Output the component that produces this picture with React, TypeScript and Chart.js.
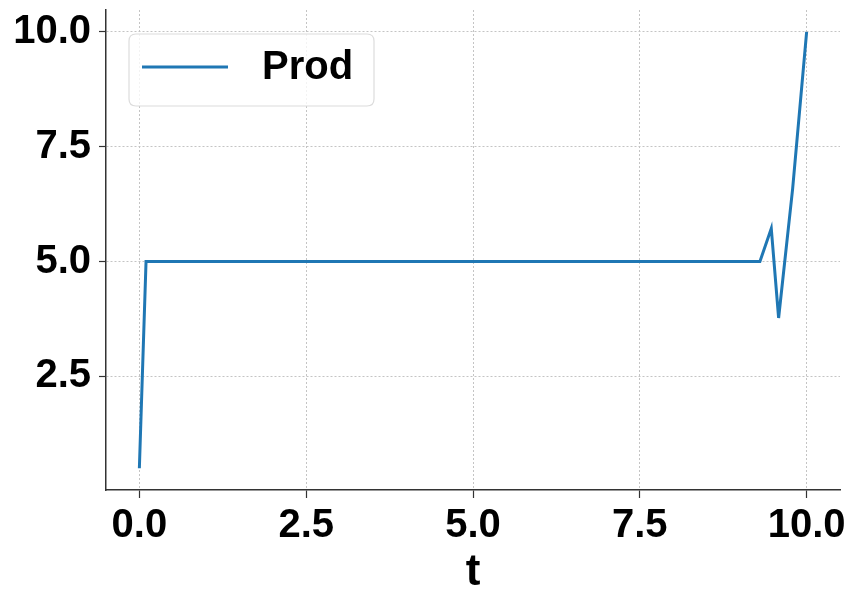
import React, { useEffect, useRef } from "react";
import { Chart, registerables } from "chart.js";

Chart.register(...registerables);

const tValues = [0, 0.1, 9.3, 9.47, 9.58, 9.79, 10];
const prodValues = [0.5, 5, 5, 5.72, 3.77, 6.58, 10];
const xTicks = [0, 2.5, 5, 7.5, 10];
const yTicks = [2.5, 5, 7.5, 10];
const seriesLabel = "Prod";
const xTitle = "t";

const FONT = "'Liberation Sans', Arial, Helvetica, sans-serif";
const LINE_COLOR = "#1f77b4";

const legendPlugin = {
  id: "mplLegend",
  afterDraw(chart: any) {
    const ctx = chart.ctx;
    const x0 = 129, y0 = 34, w = 245, h = 72, r = 7;
    ctx.save();
    ctx.beginPath();
    ctx.moveTo(x0 + r, y0);
    ctx.lineTo(x0 + w - r, y0);
    ctx.quadraticCurveTo(x0 + w, y0, x0 + w, y0 + r);
    ctx.lineTo(x0 + w, y0 + h - r);
    ctx.quadraticCurveTo(x0 + w, y0 + h, x0 + w - r, y0 + h);
    ctx.lineTo(x0 + r, y0 + h);
    ctx.quadraticCurveTo(x0, y0 + h, x0, y0 + h - r);
    ctx.lineTo(x0, y0 + r);
    ctx.quadraticCurveTo(x0, y0, x0 + r, y0);
    ctx.closePath();
    ctx.fillStyle = "rgba(255,255,255,0.8)";
    ctx.fill();
    ctx.strokeStyle = "#dcdcdc";
    ctx.lineWidth = 1.2;
    ctx.stroke();
    ctx.beginPath();
    ctx.moveTo(142, 67);
    ctx.lineTo(228, 67);
    ctx.strokeStyle = LINE_COLOR;
    ctx.lineWidth = 3;
    ctx.stroke();
    ctx.fillStyle = "#000";
    ctx.font = `bold 40px ${FONT}`;
    ctx.textBaseline = "middle";
    ctx.textAlign = "left";
    ctx.fillText(chart.data.datasets[0].label, 262, 68);
    ctx.restore();
  },
};

export default function App() {
  const ref = useRef<HTMLCanvasElement>(null);
  useEffect(() => {
    if (!ref.current) return;
    const chart = new Chart(ref.current, {
      type: "scatter",
      data: {
        datasets: [
          {
            label: seriesLabel,
            data: tValues.map((t, i) => ({ x: t, y: prodValues[i] })),
            showLine: true,
            borderColor: LINE_COLOR,
            backgroundColor: LINE_COLOR,
            borderWidth: 3,
            pointRadius: 0,
            tension: 0,
          },
        ],
      },
      options: {
        responsive: false,
        animation: false,
        layout: { padding: { top: 10, right: 9, left: 0, bottom: 0 } },
        plugins: { legend: { display: false }, tooltip: { enabled: false } },
        scales: {
          x: {
            type: "linear",
            min: -0.5,
            max: 10.5,
            afterBuildTicks: (s: any) => {
              s.ticks = xTicks.map((v) => ({ value: v }));
            },
            afterFit: (s: any) => {
              s.height = 102;
              s.paddingLeft = 0;
              s.paddingRight = 0;
            },
            ticks: {
              color: "#000",
              font: { family: FONT, size: 40, weight: "bold" },
              padding: 4,
              maxRotation: 0,
              callback: (v: any) => Number(v).toFixed(1),
            },
            grid: {
              color: "#c4c4c4",
              lineWidth: 1,
              drawTicks: true,
              tickLength: 8,
              tickColor: "#333",
              tickWidth: 1.2,
            },
            border: { display: true, color: "#333", width: 1.5, dash: [2, 2] },
            title: {
              display: true,
              text: xTitle,
              color: "#000",
              font: { family: FONT, size: 44, weight: "bold", lineHeight: 0.85 },
              padding: { top: 0, bottom: 0 },
            },
          },
          y: {
            type: "linear",
            min: 0.025,
            max: 10.475,
            afterBuildTicks: (s: any) => {
              s.ticks = yTicks.map((v) => ({ value: v }));
            },
            afterFit: (s: any) => {
              s.width = 106;
              s.paddingTop = 0;
              s.paddingBottom = 0;
            },
            ticks: {
              color: "#000",
              font: { family: FONT, size: 40, weight: "bold" },
              padding: 8,
              callback: (v: any) => Number(v).toFixed(1),
            },
            grid: {
              color: "#c4c4c4",
              lineWidth: 1,
              drawTicks: true,
              tickLength: 7,
              tickColor: "#333",
              tickWidth: 1.2,
            },
            border: { display: true, color: "#333", width: 1.5, dash: [2, 2] },
          },
        },
      },
      plugins: [legendPlugin],
    } as any);
    return () => chart.destroy();
  }, []);
  return (
    <div style={{ position: "absolute", left: 0, top: 0, width: 849, height: 592, background: "#fff" }}>
      <canvas ref={ref} width={849} height={592} style={{ display: "block" }} />
    </div>
  );
}
